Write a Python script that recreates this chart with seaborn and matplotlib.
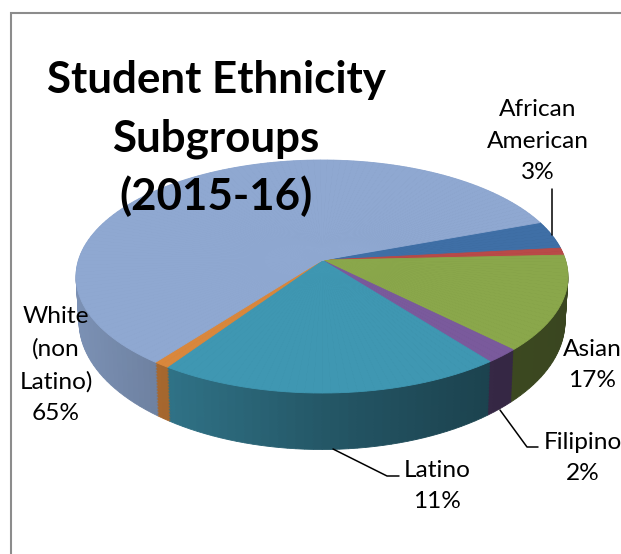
import numpy as np
import seaborn as sns
import matplotlib.pyplot as plt
from matplotlib.transforms import Transform

# slice shares as drawn in the picture (they differ from the printed labels)
groups = ["African American", "Other 1", "Asian", "Filipino", "Latino", "Other 2", "White (non Latino)"]
shares = [3.9, 1.0, 13.2, 2.0, 20.0, 0.9, 59.0]
face_colors = ["#3f6fa6", "#b94a48", "#8aa74b", "#7a5a9c", "#3f97b2", "#d9873c", "#8fa8d1"]

label_texts = ["African\nAmerican\n3%", "Asian\n17%", "Filipino\n2%", "Latino\n11%", "White\n(non\nLatino)\n65%"]
title_lines = ["Student Ethnicity", "Subgroups", "(2015-16)"]


class TiltedPie(Transform):
    """Unit pie -> pixel coords, seen in perspective; level 0 is the top face, 1 the bottom."""
    input_dims = 2
    output_dims = 2
    has_inverse = False

    def __init__(self, level=0.0):
        super().__init__()
        self.level = level

    def transform_non_affine(self, values):
        b = 0.14
        u, v = values[:, 0], values[:, 1]
        d = 1 + b * v
        up = u * np.sqrt(1 - b ** 2) / d
        vp = (v + b) / d
        x = 322 + (246 - 3 * self.level) * up
        y = 276.5 + 45 * self.level - (116.5 + 11.5 * self.level) * vp
        return np.column_stack([x, y])


def draw_layer(ax, level, shade):
    # each slice is cut in thin pieces so the wall shading can change along the rim
    pieces, colors = [], []
    for share, col in zip(shares, face_colors):
        n = max(1, int(np.ceil(share / 0.5)))
        pieces += [share / n] * n
        colors += [col] * n
    wedges, _ = ax.pie(pieces, colors=colors, startangle=20.2, counterclock=False,
                       labeldistance=None, wedgeprops={"linewidth": 0.6})
    tr = TiltedPie(level)
    for w in wedges:
        mid = np.deg2rad((w.theta1 + w.theta2) / 2)
        rgb = np.array(w.get_facecolor()[:3])
        if shade:
            screen_x = tr.transform_non_affine(np.array([[np.cos(mid), np.sin(mid)]]))[0, 0]
            rgb = rgb * np.interp(screen_x, [80, 165, 320, 490, 565], [0.86, 0.76, 0.58, 0.44, 0.42])
        w.set_facecolor(rgb)
        w.set_edgecolor(rgb)
        w.set_transform(tr + ax.transData)


sns.set_theme(style="white")
plt.rcParams["font.family"] = ["Lato", "DejaVu Sans"]

fig = plt.figure(figsize=(6.21, 5.54), dpi=100)
ax = fig.add_axes([0, 0, 1, 1])

for level in np.linspace(1, 0.02, 36):
    draw_layer(ax, level, True)
draw_layer(ax, 0, False)

ax.set_aspect("auto")
ax.set_xlim(0, 621)
ax.set_ylim(554, 0)
ax.axis("off")

# outer chart frame
ax.plot([11, 11, 621], [554, 13, 13], color="#8c8c8c", lw=1.5, solid_joinstyle="miter")

# leader lines
ax.plot([552, 552], [189, 235], color="black", lw=1.1)
ax.plot([500, 527, 538], [410, 447, 447], color="black", lw=1.1)
ax.plot([333, 387, 399], [449, 476, 476], color="black", lw=1.1)

for line, y in zip(title_lines, [80, 139, 196]):
    ax.text(216, y, line, fontsize=31.6, fontweight="bold", ha="center", va="center", color="black")

label_pos = [(538, 141), (592, 365), (583, 458), (437, 486), (56, 365)]
for txt, (x, y) in zip(label_texts, label_pos):
    ax.text(x, y, txt, fontsize=17.6, ha="center", va="center", color="black", linespacing=1.62)

fig.savefig("out.png", dpi=100)
plt.close(fig)
